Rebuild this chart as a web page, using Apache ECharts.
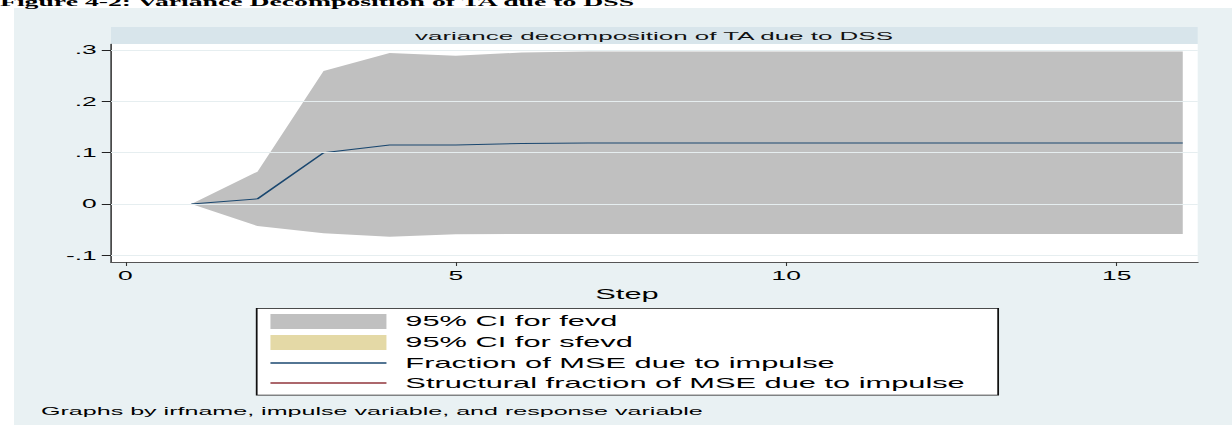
<!DOCTYPE html>
<html><head><meta charset="utf-8">
<script src="https://cdn.jsdelivr.net/npm/echarts@6/dist/echarts.min.js"></script>
<style>
html,body{margin:0;padding:0;background:#fff;overflow:hidden;width:1232px;height:425px;}
#wrap{position:absolute;left:0;top:0;width:560px;height:425px;transform:scaleX(2.2);transform-origin:0 0;}
</style></head><body><div id="wrap"></div>
<script>
// ---- data ----
const steps   = [1, 2, 3, 4, 5, 6, 7, 8, 9, 10, 11, 12, 13, 14, 15, 16];
const fevd    = [0, 0.010, 0.100, 0.115, 0.115, 0.118, 0.119, 0.119, 0.119, 0.119, 0.119, 0.119, 0.119, 0.119, 0.119, 0.119];
const ciUpper = [0, 0.063, 0.259, 0.294, 0.289, 0.295, 0.297, 0.297, 0.297, 0.297, 0.297, 0.297, 0.297, 0.297, 0.297, 0.297];
const ciLower = [0, -0.043, -0.057, -0.064, -0.059, -0.0585, -0.0585, -0.0585, -0.0585, -0.0585, -0.0585, -0.0585, -0.0585, -0.0585, -0.0585, -0.0585];
const xTicks = [0, 5, 10, 15];
const yTicks = [-0.1, 0, 0.1, 0.2, 0.3];
const yTickLabels = ['-.1', '0', '.1', '.2', '.3'];
const legendNames = ['95% CI for fevd', '95% CI for sfevd', 'Fraction of MSE due to impulse', 'Structural fraction of MSE due to impulse'];
const panelTitle = 'variance decomposition of TA due to DSS';
const xTitle = 'Step';
const note = 'Graphs by irfname, impulse variable, and response variable';
const caption = 'Figure 4-2: Variance Decomposition of TA due to DSS';

// ---- layout (the reference is horizontally stretched, reproduced with a CSS scaleX) ----
const SX = 2.2;
const FONT = 'Liberation Sans';
const C = {
  outer: '#e9f1f3', strip: '#d8e5eb', grid: '#e6eef0',
  band: '#c0c0c0', band2: '#e4d9a6', navy: '#1a476f', maroon: '#90353b'
};
const px = v => v / SX;

const chart = echarts.init(document.getElementById('wrap'), null, {renderer: 'svg'});

const bandData = steps.map((s, i) => [s, ciLower[i], ciUpper[i]]);

const option = {
  animation: false,
  grid: {left: px(111), top: 44, width: px(1197.7 - 111), height: 218, show: true, backgroundColor: '#fff', borderWidth: 0, containLabel: false},
  xAxis: {
    type: 'value', min: -0.216, max: 16.226,
    axisLine: {show: true, onZero: false, lineStyle: {color: '#555', width: 1}},
    axisTick: {show: true, customValues: xTicks, length: 4, lineStyle: {color: '#333', width: 0.5}},
    axisLabel: {customValues: xTicks, margin: 7.5, color: '#000', fontSize: 12, fontFamily: FONT},
    splitLine: {show: false}
  },
  yAxis: {
    type: 'value', min: -0.113, max: 0.3117,
    axisLine: {show: true, onZero: false, lineStyle: {color: '#111', width: 0.6}},
    axisTick: {show: true, customValues: yTicks, length: 4.2, lineStyle: {color: '#222', width: 1}},
    axisLabel: {
      customValues: yTicks, margin: 6.5, color: '#000', fontSize: 12, fontFamily: FONT,
      formatter: function (v) {
        for (let i = 0; i < yTicks.length; i++) if (Math.abs(yTicks[i] - v) < 1e-9) return yTickLabels[i];
        return '';
      }
    },
    splitLine: {show: false}
  },
  legend: {
    orient: 'vertical', left: px(256.7), top: 308.3,
    padding: [5.7, 15, 5.2, 5.6],
    itemWidth: px(116), itemHeight: 15, itemGap: 6,
    backgroundColor: '#fff', borderColor: '#111', borderWidth: 0.8, borderRadius: 0,
    selectedMode: false,
    textStyle: {fontSize: 14, color: '#000', fontFamily: FONT, padding: [0, 0, 0, 3.6]},
    data: [
      {name: legendNames[0], icon: 'rect'},
      {name: legendNames[1], icon: 'rect'},
      {name: legendNames[2], itemStyle: {opacity: 0}, lineStyle: {width: 1.3}},
      {name: legendNames[3], itemStyle: {opacity: 0}, lineStyle: {width: 1.3}}
    ]
  },
  graphic: [
    {type: 'rect', z: -100, shape: {x: px(14), y: 8, width: 560, height: 420}, style: {fill: C.outer}},
    {type: 'rect', z: -90, shape: {x: px(111), y: 27, width: px(1197.7 - 111), height: 17}, style: {fill: C.strip}},
    {type: 'text', z: 10, x: px(654), y: 35.5, style: {text: panelTitle, fill: '#111', fontSize: 11.8, fontFamily: FONT, align: 'center', verticalAlign: 'middle'}},
    {type: 'text', z: 10, x: px(627), y: 294, style: {text: xTitle, fill: '#000', fontSize: 14, fontFamily: FONT, align: 'center', verticalAlign: 'middle'}},
    {type: 'text', z: 10, x: px(41), y: 411, style: {text: note, fill: '#000', fontSize: 11.4, fontFamily: FONT, align: 'left', verticalAlign: 'middle'}},
    {type: 'text', z: 10, x: 0, y: 1.5, style: {text: caption, fill: '#000', fontSize: 12.6, fontWeight: 'bold', fontFamily: 'Liberation Serif', align: 'left', verticalAlign: 'middle'}}
  ],
  series: [
    {
      type: 'line', name: 'grid', data: [], z: 1, silent: true, symbol: 'none',
      markLine: {
        silent: true, symbol: ['none', 'none'], label: {show: false}, animation: false,
        lineStyle: {color: C.grid, width: 1, type: 'solid'},
        emphasis: {disabled: true},
        data: yTicks.map(v => ({yAxis: v}))
      }
    },
    {
      type: 'custom', name: legendNames[0], z: 2, silent: true,
      itemStyle: {color: C.band},
      encode: {x: 0, y: [1, 2]},
      data: bandData,
      renderItem: function (params, api) {
        if (params.dataIndex !== 0) return null;
        const pts = [];
        for (let i = 0; i < steps.length; i++) pts.push(api.coord([steps[i], ciUpper[i]]));
        for (let i = steps.length - 1; i >= 0; i--) pts.push(api.coord([steps[i], ciLower[i]]));
        return {type: 'polygon', shape: {points: pts}, style: {fill: C.band, stroke: null}};
      }
    },
    {
      type: 'custom', name: legendNames[1], z: 2, silent: true,
      itemStyle: {color: C.band2}, data: [],
      renderItem: function () { return null; }
    },
    {
      type: 'line', name: legendNames[2], z: 3, silent: true, symbol: 'none',
      lineStyle: {color: C.navy, width: 1}, itemStyle: {color: C.navy},
      data: steps.map((s, i) => [s, fevd[i]])
    },
    {
      type: 'line', name: legendNames[3], z: 3, silent: true, symbol: 'none',
      lineStyle: {color: C.maroon, width: 1}, itemStyle: {color: C.maroon},
      data: []
    }
  ]
};
chart.setOption(option);
</script>
</body></html>
